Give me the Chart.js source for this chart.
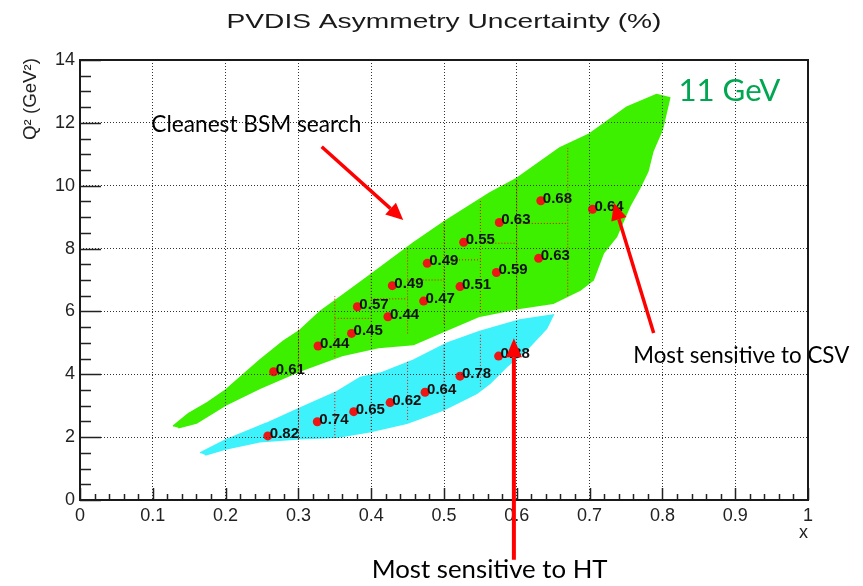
<!DOCTYPE html>
<html>
<head>
<meta charset="utf-8">
<script src="https://cdn.jsdelivr.net/npm/chart.js@4/dist/chart.umd.min.js"></script>
<style>
html,body{margin:0;padding:0;background:#fff;}
#wrap{width:863px;height:586px;position:relative;}
</style>
</head>
<body>
<div id="wrap"><canvas id="c" width="863" height="586"></canvas></div>
<script>
// ---------------- data ----------------
const xTickLabels = ['0','0.1','0.2','0.3','0.4','0.5','0.6','0.7','0.8','0.9','1'];
const yTickLabels = ['0','2','4','6','8','10','12','14'];

// 11 GeV acceptance region (boundary: upper edge, then back along lower edge)
const region11X = [0.128,0.149,0.175,0.2,0.247,0.279,0.302,0.33,0.36,0.398,0.458,0.5,0.563,0.6,0.659,0.70,0.751,0.792,0.81,
                   0.80,0.787,0.78,0.769,0.755,0.737,0.719,0.705,0.687,0.65,0.604,0.549,0.504,0.458,0.41,0.36,0.302,0.247,0.2,0.16,0.135];
const region11Y = [2.35,2.75,3.1,3.5,4.45,5.05,5.4,6.0,6.5,7.15,8.18,8.85,9.77,10.23,11.2,11.65,12.5,12.9,12.8,
                   11.8,11.1,10.45,9.93,9.34,8.38,7.86,7.0,6.68,6.26,6.1,5.85,5.41,4.95,4.85,4.6,4.1,3.55,3.02,2.45,2.3];

// 6.6 GeV acceptance region
const region6X = [0.165,0.2,0.256,0.302,0.353,0.385,0.412,0.458,0.504,0.549,0.604,0.65,
                  0.641,0.613,0.586,0.563,0.545,0.499,0.449,0.398,0.353,0.302,0.247,0.2,0.172];
const region6Y = [1.5,1.91,2.44,2.92,3.45,3.9,4.03,4.45,4.99,5.36,5.73,5.89,
                  5.46,4.77,4.24,3.71,3.39,2.86,2.44,2.17,2.0,1.95,1.85,1.62,1.43];

// bin points and asymmetry uncertainties (%)
const pts11X = [0.266,0.327,0.373,0.381,0.423,0.429,0.472,0.477,0.522,0.527,0.572,0.576,0.630,0.633,0.704];
const pts11Y = [4.08,4.90,5.30,6.15,5.83,6.82,6.33,7.53,6.79,8.20,7.24,8.83,7.69,9.52,9.25];
const pts11Labels = ['0.61','0.44','0.45','0.57','0.44','0.49','0.47','0.49','0.51','0.55','0.59','0.63','0.63','0.68','0.64'];

const pts6X = [0.258,0.326,0.376,0.426,0.474,0.522,0.575];
const pts6Y = [2.04,2.49,2.81,3.10,3.43,3.94,4.58];
const pts6Labels = ['0.82','0.74','0.65','0.62','0.64','0.78','0.88'];

// bin boundaries (x edges with Q2 extent) and Q2 edges (with x extent)
const bin11EdgeX  = [0.30,0.35,0.40,0.45,0.50,0.55,0.60,0.67];
const bin11EdgeLo = [4.10,4.56,5.00,5.30,5.60,5.95,6.10,6.50];
const bin11EdgeHi = [5.45,6.49,7.38,8.06,8.90,9.55,10.2,11.2];
const bin11Q2     = [5.78,6.40,7.00,7.64,8.17,8.80];
const bin11Q2From = [0.35,0.40,0.45,0.50,0.55,0.60];
const bin11Q2To   = [0.40,0.45,0.50,0.55,0.60,0.67];
const bin6EdgeX   = [0.30,0.35,0.40,0.45,0.50,0.55];
const bin6EdgeLo  = [1.91,1.97,2.23,2.55,2.81,3.60];
const bin6EdgeHi  = [2.97,3.45,4.04,4.45,5.00,5.30];

// ---------------- build ----------------
const toXY = (xs, ys) => xs.map((x, i) => ({x: x, y: ys[i]}));
function vSegs(xs, lo, hi) {
  const out = [];
  xs.forEach((x, i) => { out.push({x: x, y: lo[i]}, {x: x, y: hi[i]}, {x: x, y: null}); });
  return out;
}
function hSegs(ys, from, to) {
  const out = [];
  ys.forEach((y, i) => { out.push({x: from[i], y: y}, {x: to[i], y: y}, {x: to[i], y: null}); });
  return out;
}

const GREEN = '#3cf000';
const CYAN = '#3ef2fb';
const RED = '#ff0000';

const annotations = {
  texts: [
    {text: 'Cleanest BSM search', x: 0.098, y: 11.72, w: 210, color: '#000'},
    {text: 'Most sensitive to CSV', x: 0.760, y: 4.35, w: 216, color: '#000'},
    {text: 'Most sensitive to HT', x: 0.4007, y: -2.48, w: 236, color: '#000'},
    {text: '11 GeV', x: 0.822, y: 12.68, w: 102, color: '#00a651'}
  ],
  arrows: [
    {x1: 0.332, y1: 11.24, x2: 0.444, y2: 8.91, lw: 3.5, hl: 17, hw: 16},
    {x1: 0.788, y1: 5.31, x2: 0.7335, y2: 9.45, lw: 3.5, hl: 17, hw: 16},
    {x1: 0.596, y1: -1.9, x2: 0.596, y2: 5.15, lw: 4, hl: 19, hw: 16}
  ]
};

const decor = {
  id: 'decor',
  afterDraw(chart) {
    const ctx = chart.ctx;
    const xs = chart.scales.x, ys = chart.scales.y;
    const a = chart.chartArea;
    ctx.save();
    // minor + major ticks inside frame (left and bottom)
    ctx.strokeStyle = '#222';
    ctx.lineWidth = 1.5;
    ctx.beginPath();
    for (let i = 0; i <= 50; i++) {
      const px = Math.round(xs.getPixelForValue(i / 50)) + 0.5;
      const len = (i % 5 === 0) ? 12 : 6;
      ctx.moveTo(px, a.bottom); ctx.lineTo(px, a.bottom - len);
    }
    for (let j = 0; j <= 28; j++) {
      const py = Math.round(ys.getPixelForValue(j / 2)) + 0.5;
      const len = (j % 4 === 0) ? 21 : 11;
      ctx.moveTo(a.left, py); ctx.lineTo(a.left + len, py);
    }
    ctx.stroke();
    // frame
    ctx.lineWidth = 2;
    ctx.strokeStyle = '#1a1a1a';
    ctx.strokeRect(a.left, a.top, a.right - a.left, a.bottom - a.top);

    // point labels
    ctx.fillStyle = '#111';
    ctx.font = 'bold 15px "Liberation Sans", Arial, sans-serif';
    ctx.textAlign = 'left';
    ctx.textBaseline = 'alphabetic';
    const lab = (X, Y, L) => X.forEach((x, i) => {
      ctx.fillText(L[i], xs.getPixelForValue(x) + 2, ys.getPixelForValue(Y[i]) + 2);
    });
    lab(pts11X, pts11Y, pts11Labels);
    lab(pts6X, pts6Y, pts6Labels);

    // title (wide Helvetica look)
    ctx.fillStyle = '#1a1a1a';
    ctx.font = '21px "Liberation Sans", Arial, sans-serif';
    const title = 'PVDIS Asymmetry Uncertainty (%)';
    const tw = ctx.measureText(title).width;
    const sx = 435 / tw;
    ctx.save();
    ctx.translate((a.left + a.right) / 2, 28);
    ctx.scale(sx, 1);
    ctx.textAlign = 'center';
    ctx.fillText(title, 0, 0);
    ctx.restore();

    // axis titles
    ctx.fillStyle = '#222';
    ctx.save();
    ctx.translate(31, a.top - 2);
    ctx.rotate(-Math.PI / 2);
    ctx.textAlign = 'right';
    ctx.textBaseline = 'middle';
    ctx.font = '18px "Liberation Sans", Arial, sans-serif';
    const yt = 'Q\u00B2 (GeV\u00B2)';
    const ytw = ctx.measureText(yt).width;
    ctx.scale(82 / ytw, 1);
    ctx.fillText(yt, 0, 0);
    ctx.restore();
    ctx.font = '18px "Liberation Sans", Arial, sans-serif';
    ctx.textAlign = 'right';
    ctx.textBaseline = 'middle';
    ctx.fillText('x', a.right, 533);

    // arrows
    ctx.fillStyle = RED; ctx.strokeStyle = RED;
    annotations.arrows.forEach(ar => {
      const x1 = xs.getPixelForValue(ar.x1), y1 = ys.getPixelForValue(ar.y1);
      const x2 = xs.getPixelForValue(ar.x2), y2 = ys.getPixelForValue(ar.y2);
      const ang = Math.atan2(y2 - y1, x2 - x1);
      const bx = x2 - ar.hl * Math.cos(ang), by = y2 - ar.hl * Math.sin(ang);
      ctx.lineWidth = ar.lw;
      ctx.beginPath(); ctx.moveTo(x1, y1); ctx.lineTo(bx, by); ctx.stroke();
      ctx.beginPath();
      ctx.moveTo(x2, y2);
      ctx.lineTo(bx + ar.hw / 2 * Math.sin(ang), by - ar.hw / 2 * Math.cos(ang));
      ctx.lineTo(bx - ar.hw / 2 * Math.sin(ang), by + ar.hw / 2 * Math.cos(ang));
      ctx.closePath(); ctx.fill();
    });

    // annotation texts
    ctx.textAlign = 'left';
    ctx.textBaseline = 'alphabetic';
    annotations.texts.forEach(t => {
      ctx.font = '100px Lato, "Open Sans", sans-serif';
      const w = ctx.measureText(t.text).width;
      const size = 100 * t.w / w;
      ctx.font = size.toFixed(2) + 'px Lato, "Open Sans", sans-serif';
      ctx.fillStyle = t.color;
      ctx.fillText(t.text, xs.getPixelForValue(t.x), ys.getPixelForValue(t.y));
    });
    ctx.restore();
  }
};

const tickFont = {family: '"Liberation Sans", Arial, sans-serif', size: 18};

new Chart(document.getElementById('c'), {
  type: 'scatter',
  data: {
    datasets: [
      {type: 'scatter', data: toXY(pts11X, pts11Y), backgroundColor: '#ee1515', borderWidth: 0, pointRadius: 4.5, order: 0},
      {type: 'scatter', data: toXY(pts6X, pts6Y), backgroundColor: '#ee1515', borderWidth: 0, pointRadius: 4.5, order: 0},
      {type: 'line', data: vSegs(bin11EdgeX, bin11EdgeLo, bin11EdgeHi), borderColor: RED, borderWidth: 1, borderDash: [1, 2], pointRadius: 0, fill: false, spanGaps: false, order: 1},
      {type: 'line', data: hSegs(bin11Q2, bin11Q2From, bin11Q2To), borderColor: RED, borderWidth: 1, borderDash: [1, 2], pointRadius: 0, fill: false, spanGaps: false, order: 1},
      {type: 'line', data: vSegs(bin6EdgeX, bin6EdgeLo, bin6EdgeHi), borderColor: RED, borderWidth: 1, borderDash: [1, 2], pointRadius: 0, fill: false, spanGaps: false, order: 1},
      {type: 'line', data: toXY(region11X, region11Y), borderColor: GREEN, backgroundColor: GREEN, borderWidth: 1.5, pointRadius: 0, tension: 0, fill: 'shape', order: 2},
      {type: 'line', data: toXY(region6X, region6Y), borderColor: CYAN, backgroundColor: CYAN, borderWidth: 1.5, pointRadius: 0, tension: 0, fill: 'shape', order: 2}
    ]
  },
  options: {
    responsive: false,
    animation: false,
    devicePixelRatio: 1,
    layout: {padding: {left: 0, top: 60, right: 55, bottom: 0}},
    plugins: {legend: {display: false}, title: {display: false}, tooltip: {enabled: false}},
    scales: {
      x: {
        type: 'linear', min: 0, max: 1,
        afterFit: s => { s.height = 86; },
        ticks: {stepSize: 0.1, padding: 5, color: '#222', font: tickFont, maxRotation: 0,
                callback: v => xTickLabels[Math.round(v * 10)]},
        grid: {color: '#333', lineWidth: 1, drawTicks: false, z: 1},
        border: {display: false, dash: [1, 2]}
      },
      y: {
        type: 'linear', min: 0, max: 14,
        afterFit: s => { s.width = 80; },
        ticks: {stepSize: 2, padding: 5, color: '#222', font: tickFont,
                callback: v => yTickLabels[Math.round(v / 2)]},
        grid: {color: '#333', lineWidth: 1, drawTicks: false, z: 1},
        border: {display: false, dash: [1, 2]}
      }
    }
  },
  plugins: [decor]
});
</script>
</body>
</html>
